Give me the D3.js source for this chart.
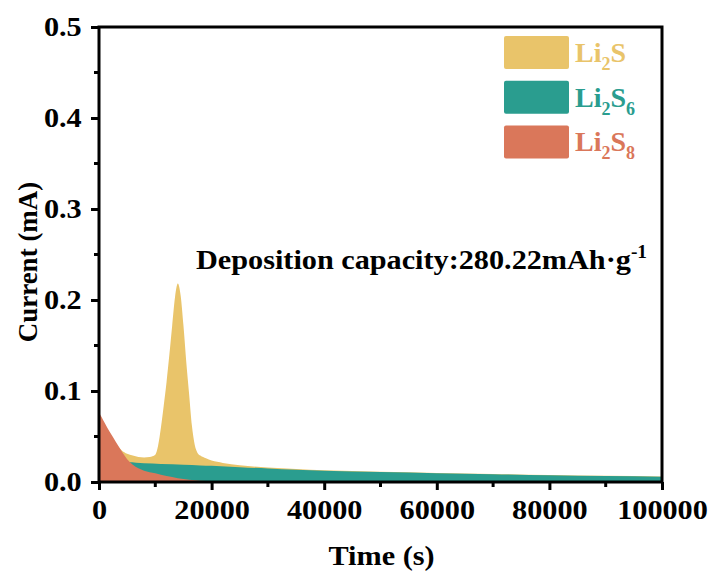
<!DOCTYPE html>
<html>
<head>
<meta charset="utf-8">
<script src="https://cdn.jsdelivr.net/npm/d3@7"></script>
<style>
  body { margin: 0; background: #fff; }
  text { font-family: "Liberation Serif", "Times New Roman", serif; font-weight: bold; }
</style>
</head>
<body>
<div id="chart"></div>
<script>
// time (s) and current (mA)
var li2sTime = [0, 1000, 2000, 3000, 4000, 5000, 6000, 7000, 8000, 9000, 10000, 10500, 11000, 11500, 12000, 12500, 13000, 13500, 14000, 14500, 15000, 15500, 16000, 16500, 17000, 17500, 18000, 19000, 20000, 22000, 25000, 30000, 35000, 40000, 50000, 60000, 70000, 80000, 90000, 100000];
var li2sCurrent = [0.075, 0.062, 0.051, 0.042, 0.035, 0.031, 0.029, 0.0275, 0.027, 0.0275, 0.030, 0.040, 0.060, 0.084, 0.110, 0.140, 0.172, 0.203, 0.218, 0.205, 0.172, 0.132, 0.097, 0.062, 0.041, 0.032, 0.029, 0.026, 0.0235, 0.021, 0.0185, 0.016, 0.0143, 0.0129, 0.0113, 0.0100, 0.0089, 0.0078, 0.0069, 0.0061];

var li2s6Time = [5000, 5200, 8000, 11000, 15000, 18000, 20000, 25000, 30000, 35000, 40000, 50000, 60000, 70000, 80000, 90000, 100000];
var li2s6Current = [0, 0.0216, 0.0205, 0.0198, 0.019, 0.0182, 0.0178, 0.0163, 0.0148, 0.0134, 0.0124, 0.0110, 0.0097, 0.0086, 0.0075, 0.0066, 0.0058];

var li2s8Time = [0, 500, 1000, 2000, 3000, 4000, 5000, 6000, 7000, 8000, 10000, 12000, 14000, 16000, 20000, 25000, 30000, 100000];
var li2s8Current = [0.076, 0.071, 0.065, 0.054, 0.044, 0.034, 0.025, 0.019, 0.015, 0.0125, 0.0095, 0.0065, 0.0042, 0.0025, 0.001, 0.0003, 0, 0];

var xTicks = [0, 20000, 40000, 60000, 80000, 100000];
var yTicks = [0.0, 0.1, 0.2, 0.3, 0.4, 0.5];

var series = [
  {name: 'Li2S', sub: '2', tail: '', t: li2sTime, v: li2sCurrent, color: '#E9C46A'},
  {name: 'Li2S6', sub: '2', tail: '6', t: li2s6Time, v: li2s6Current, color: '#2A9D8F'},
  {name: 'Li2S8', sub: '2', tail: '8', t: li2s8Time, v: li2s8Current, color: '#DA775A'}
];

var width = 711, height = 579;
var margin = {left: 99, right: 49, top: 27, bottom: 97};
var stretch = 1.08; // the picture's text is slightly wider than Liberation Serif

var svg = d3.select('#chart').append('svg')
  .attr('width', width)
  .attr('height', height);

var x = d3.scaleLinear().domain([0, 100000]).range([margin.left, width - margin.right]);
var y = d3.scaleLinear().domain([0, 0.5]).range([height - margin.bottom, margin.top]);

var area = d3.area()
  .x(function(d) { return x(d[0]); })
  .y0(y(0))
  .y1(function(d) { return y(d[1]); })
  .curve(d3.curveMonotoneX);

// back to front: Li2S, Li2S6, Li2S8
series.forEach(function(s) {
  var pts = s.t.map(function(t, i) { return [t, s.v[i]]; });
  svg.append('path')
    .datum(pts)
    .attr('fill', s.color)
    .attr('d', area);
});

// axes
var xAxis = d3.axisBottom(x).tickValues(xTicks).tickSize(8).tickPadding(9).tickFormat(d3.format('d'));
var yAxis = d3.axisLeft(y).tickValues(yTicks).tickSize(8).tickPadding(8).tickFormat(d3.format('.1f'));

var gx = svg.append('g').attr('transform', 'translate(0,' + y(0) + ')').call(xAxis);
var gy = svg.append('g').attr('transform', 'translate(' + x(0) + ',0)').call(yAxis);

// minor ticks
var xMinor = d3.range(10000, 100000, 20000);
var yMinor = d3.range(0.05, 0.5, 0.1);
gx.selectAll('.minor').data(xMinor).enter().append('line')
  .attr('x1', function(d) { return x(d); }).attr('x2', function(d) { return x(d); })
  .attr('y1', 0).attr('y2', 5)
  .attr('stroke', '#000').attr('stroke-width', 3);
gy.selectAll('.minor').data(yMinor).enter().append('line')
  .attr('y1', function(d) { return y(d); }).attr('y2', function(d) { return y(d); })
  .attr('x1', 0).attr('x2', -5)
  .attr('stroke', '#000').attr('stroke-width', 3);

[gx, gy].forEach(function(g) {
  g.select('.domain').remove();
  g.selectAll('.tick line').attr('stroke', '#000').attr('stroke-width', 3);
  g.selectAll('.tick text').attr('fill', '#000').style('font-size', '28px')
    .style('font-family', '"Liberation Serif", serif').style('font-weight', 'bold')
    .attr('transform', 'scale(' + stretch + ',1)');
});

// frame
svg.append('rect')
  .attr('x', x(0)).attr('y', y(0.5))
  .attr('width', x(100000) - x(0)).attr('height', y(0) - y(0.5))
  .attr('fill', 'none').attr('stroke', '#000').attr('stroke-width', 3);

// axis titles
svg.append('text')
  .attr('transform', 'translate(' + ((x(0) + x(100000)) / 2 + 1) + ',565) scale(' + stretch + ',1)')
  .attr('text-anchor', 'middle').style('font-size', '28px')
  .text('Time (s)');

svg.append('text')
  .attr('transform', 'translate(37,262) rotate(-90)')
  .attr('text-anchor', 'middle').style('font-size', '27px')
  .text('Current (mA)');

// annotation
var note = svg.append('text')
  .attr('transform', 'translate(196,269) scale(' + stretch + ',1)')
  .style('font-size', '28px');
note.append('tspan').text('Deposition capacity:280.22mAh\u00b7g');
note.append('tspan').attr('dy', -11).style('font-size', '18px').text('-1');

// legend
var legend = svg.append('g').attr('transform', 'translate(504,36)');
series.forEach(function(s, i) {
  var row = legend.append('g').attr('transform', 'translate(0,' + (i * 44.7) + ')');
  row.append('rect')
    .attr('width', 65).attr('height', 33).attr('rx', 2)
    .attr('fill', s.color);
  var t = row.append('text').attr('x', 71).attr('y', 26)
    .attr('fill', s.color).style('font-size', '28px');
  t.append('tspan').text('Li');
  t.append('tspan').attr('dy', 8).style('font-size', '18px').text(s.sub);
  t.append('tspan').attr('dy', -8).text('S');
  if (s.tail) t.append('tspan').attr('dy', 8).style('font-size', '18px').text(s.tail);
});
</script>
</body>
</html>
